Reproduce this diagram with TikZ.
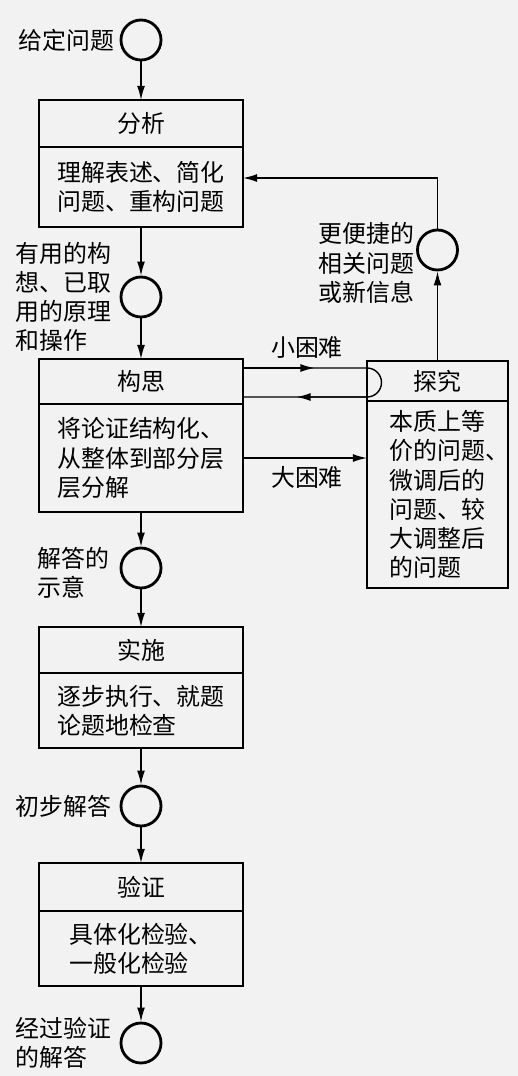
\documentclass[tikz,border=0pt]{standalone}
\usepackage{fontspec}
\setmainfont{Noto Sans CJK SC}
\usetikzlibrary{arrows.meta,positioning}

\definecolor{bg}{RGB}{242,242,242}

\tikzset{
  junc/.style={circle,draw,line width=1.6pt,minimum size=0.8cm,inner sep=0pt},
  headbox/.style={draw,line width=1.1pt,outer sep=0pt,minimum width=4.08cm,minimum height=0.94cm},
  bodybox/.style={draw,line width=1.1pt,outer sep=0pt,minimum width=4.08cm,align=left},
  lbl/.style={inner sep=0pt,align=left},
  flow/.style={line width=0.8pt,-{Latex[length=8pt,width=4.5pt]}},
  plain/.style={line width=0.8pt}
}

\begin{document}
\begin{tikzpicture}[font=\fontsize{13.6pt}{16.6pt}\selectfont]
\fill[bg] (0,0) rectangle (10.36,-21.52);
\useasboundingbox (0,0) rectangle (10.36,-21.52);

% main column
\node[junc] (give) at (2.82,-0.80) {};
\node[lbl,left=3pt of give] (givel) {给定问题};

\node[headbox] (fx) at (2.82,-2.47) {分析};
\node[bodybox,minimum height=1.6cm,below=0pt of fx] (fxb) {理解表述、简化\\问题、重构问题};

\node[junc] (idea) at (2.82,-5.94) {};
\node[lbl,left=0.16cm of idea] (ideal) {有用的构\\想、已取\\用的原理\\和操作};

\node[headbox,minimum height=0.9cm] (gs) at (2.82,-7.63) {构思};
\node[bodybox,minimum height=2.16cm,below=0pt of gs] (gsb) {将论证结构化、\\从整体到部分层\\层分解};

\node[junc] (plan) at (2.82,-11.36) {};
\node[lbl,left=0.2cm of plan,yshift=-0.1cm] (planl) {解答的\\示意};

\node[headbox,minimum height=0.92cm] (ss) at (2.82,-13.0) {实施};
\node[bodybox,minimum height=1.5cm,below=0pt of ss] (ssb) {逐步执行、就题\\论题地检查};

\node[junc] (first) at (2.82,-16.12) {};
\node[lbl,left=0.16cm of first] (firstl) {初步解答};

\node[headbox,minimum height=0.96cm] (yz) at (2.82,-17.74) {验证};
\node[bodybox,minimum height=1.5cm,below=0pt of yz] (yzb) {具体化检验、\\一般化检验};

\node[junc] (done) at (2.82,-20.86) {};
\node[lbl,left=0.16cm of done] (donel) {经过验证\\的解答};

% side column
\node[headbox,minimum width=2.82cm,minimum height=0.8cm] (tj) at (8.75,-7.62) {探究};
\node[bodybox,minimum width=2.82cm,minimum height=3.74cm,text width=1.92cm,below=0pt of tj] (tjb) {本质上等\\价的问题、\\微调后的\\问题、较\\大调整后\\的问题};

\node[junc] (news) at (8.75,-5.0) {};
\node[lbl,left=1pt of news,yshift=-0.26cm] (newsl) {更便捷的\\相关问题\\或新信息};

% flow
\draw[flow] (give) -- (fx);
\draw[flow] (fxb) -- (idea);
\draw[flow] (idea) -- (gs);
\draw[flow] (gsb) -- (plan);
\draw[flow] (plan) -- (ss);
\draw[flow] (ssb) -- (first);
\draw[flow] (first) -- (yz);
\draw[flow] (yzb) -- (done);

\draw[flow] (tj) -- (news);
\draw[flow] (news.north) |- ([yshift=0.18cm]fxb.east);

% small difficulty loop
\draw[plain] ([yshift=0.27cm]gs.east) -- coordinate[pos=0.577] (up) ([yshift=0.27cm]gs.east -| tj.west)
  arc[start angle=90,end angle=-90,radius=0.29cm] -- coordinate[pos=0.569] (dn) ([yshift=-0.31cm]gs.east);
\draw[flow] ([yshift=0.27cm]gs.east) -- (up);
\draw[flow] ([yshift=-0.31cm]gs.east -| tj.west) -- (dn);
\node (small) at (6.14,-6.94) {小困难};

\draw[flow] (gsb.east) -- (gsb.east -| tjb.west);
\node (big) at (6.14,-9.54) {大困难};

\end{tikzpicture}
\end{document}
